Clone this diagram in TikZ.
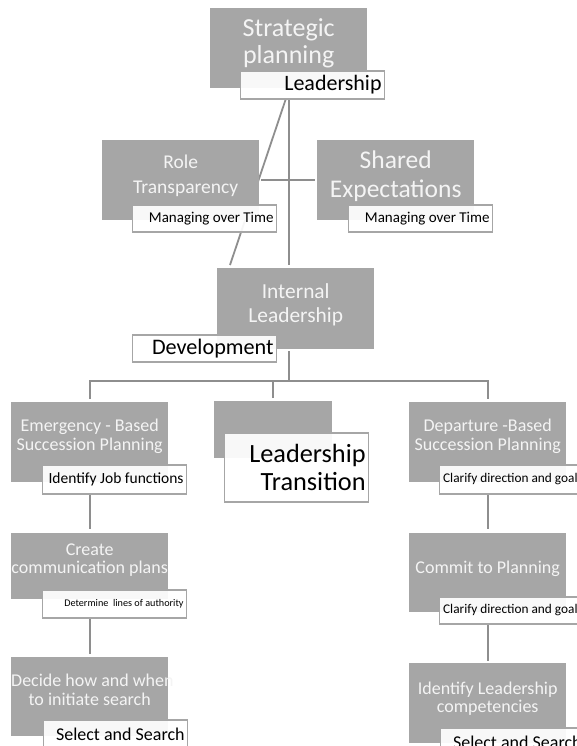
\documentclass[tikz,border=0pt]{standalone}
\usepackage{fontspec}
\setmainfont{Carlito}
\usepackage{xcolor}
\definecolor{gray500}{HTML}{A6A6A6}
\definecolor{gray600}{HTML}{8E8E8E}
\definecolor{gray50}{HTML}{F4F4F4}
\usepackage{tikz}
\usetikzlibrary{positioning, backgrounds}

\newcommand{\fsz}[2]{\fontsize{#1pt}{#2pt}\selectfont}

\begin{document}
\begin{tikzpicture}[
        x=1pt, y=-1pt,
        block/.style={fill=gray500, minimum width=157pt, minimum height=80pt, inner sep=0pt, anchor=north west},
        heading/.style={text=gray50, align=flush center, text width=157pt, inner sep=0pt},
        tag/.style={draw=gray500, line width=1.2pt, fill=white, fill opacity=0.92, text opacity=1, text=black, minimum width=144pt, minimum height=28pt, text width=138pt, inner xsep=3pt, inner ysep=0pt, align=flush right, anchor=north west},
        wire/.style={draw=gray600, line width=1.8pt}
    ]
        \useasboundingbox (0,0) rectangle (577,746);

        % Top of the chart
        \node[block] (plan) at (210,8) {};
        \node[heading, font=\fsz{26}{27}] (plan-txt) at ([yshift=5pt]plan.center) {Strategic\\planning};
        \node[tag, font=\fsz{22}{24}, below right=-18pt and 30pt of plan.south west] (plan-tag) {Leadership};

        % Second level
        \node[block] (role) at (102,140) {};
        \node[heading, font=\fsz{19.5}{25}] (role-txt) at ([yshift=4pt]role.center) {Role\\\hspace*{10pt}Transparency};
        \node[tag, font=\fsz{15}{17}, minimum height=27pt, below right=-16pt and 30pt of role.south west] (role-tag) {Managing over Time};

        \node[block] (shared) at (317,140) {};
        \node[heading, font=\fsz{25.5}{29}] (shared-txt) at ([yshift=3.5pt]shared.center) {Shared\\Expectations};
        \node[tag, font=\fsz{15}{17}, minimum height=27pt, below right=-16pt and 31pt of shared.south west] (shared-tag) {Managing over Time};

        % Middle
        \node[block, minimum height=81pt] (internal) at (217,268) {};
        \node[heading, font=\fsz{21.4}{24}] (internal-txt) at ([yshift=4pt]internal.center) {Internal\\Leadership};
        \node[tag, font=\fsz{22.2}{24}, minimum height=27pt, below right=-15pt and -85pt of internal.south west] (internal-tag) {Development};

        % Three branches
        \node[block] (emergency) at (11,402) {};
        \node[heading, font=\fsz{18}{19}] (emergency-txt) at ([yshift=6pt]emergency.center) {Emergency - Based\\Succession Planning};
        \node[tag, font=\fsz{15.5}{17}, minimum height=29pt, below right=-18pt and 31pt of emergency.south west] (emergency-tag) {Identify Job functions};

        \node[block, minimum width=118pt, minimum height=57pt] (transition) at (214,401) {};
        \node[tag, font=\fsz{26.3}{27.7}, minimum height=69pt, below right=-26pt and 10pt of transition.south west] (transition-tag) {Leadership\\Transition};

        \node[block] (departure) at (409,402) {};
        \node[heading, font=\fsz{18}{19}] (departure-txt) at ([yshift=6pt]departure.center) {Departure -Based\\Succession Planning};
        \node[tag, font=\fsz{13.3}{16}, minimum height=29pt, below right=-18pt and 30pt of departure.south west] (departure-tag) {Clarify direction and goal\hspace*{3pt}};

        % Emergency steps
        \node[block, minimum height=66pt] (comms) at (11,533) {};
        \node[heading, font=\fsz{18}{18.5}] (comms-txt) at ([yshift=6pt]comms.center) {Create\\\mbox{communication plans}};
        \node[tag, font=\fsz{10.2}{12}, below right=-10pt and 31pt of comms.south west] (comms-tag) {Determine\ \ lines of authority};

        \node[block, minimum height=79pt] (search) at (11,657) {};
        \node[heading, font=\fsz{18}{19}] (search-txt) at ([yshift=7pt]search.center) {\mbox{Decide how and when}\\to initiate search};
        \node[tag, font=\fsz{18}{20}, below right=-17pt and 32pt of search.south west] (search-tag) {Select and Search};

        % Departure steps
        \node[block, minimum height=79pt] (commit) at (409,533) {};
        \node[heading, font=\fsz{18}{19}] (commit-txt) at ([yshift=4pt]commit.center) {Commit to Planning};
        \node[tag, font=\fsz{13.3}{16}, minimum height=27pt, below right=-16pt and 30pt of commit.south west] (commit-tag) {Clarify direction and goal\hspace*{3pt}};

        \node[block] (competencies) at (409,663) {};
        \node[heading, font=\fsz{18}{18}] (competencies-txt) at ([yshift=5pt]competencies.center) {Identify Leadership\\competencies};
        \node[tag, font=\fsz{18}{20}, below right=-16pt and 31pt of competencies.south west] (competencies-tag) {Select and Search};

        % Connectors behind the boxes
        \begin{scope}[on background layer]
            \fill[white] (0,0) rectangle (577,746);
            \coordinate (bar) at ([yshift=21pt]emergency.north);

            \draw[wire] (plan-tag.south -| plan.south) -- ([yshift=3pt]internal.north -| plan.south);
            \draw[wire] ([xshift=-27pt]plan-tag.south) -- ([xshift=13pt, yshift=3pt]internal.north west);
            \draw[wire] ([xshift=2pt]role.east) -- ([xshift=-2pt]shared.west);

            \draw[wire] ([yshift=-2pt]internal.south -| plan.south) -- (plan.south |- bar);
            \draw[wire] ([yshift=3pt]emergency.north) -- (emergency.north |- bar) -| ([yshift=3pt]departure.north);
            \draw[wire] ([yshift=3pt]transition.north) -- (transition.north |- bar);

            \draw[wire] (emergency-tag.south -| emergency.south) -- ([yshift=4pt]comms.north);
            \draw[wire] (comms-tag.south -| comms.south) -- ([yshift=3pt]search.north);
            \draw[wire] (departure-tag.south -| departure.south) -- ([yshift=4pt]commit.north);
            \draw[wire] (commit-tag.south -| commit.south) -- ([yshift=2pt]competencies.north);
        \end{scope}
    \end{tikzpicture}
\end{document}
